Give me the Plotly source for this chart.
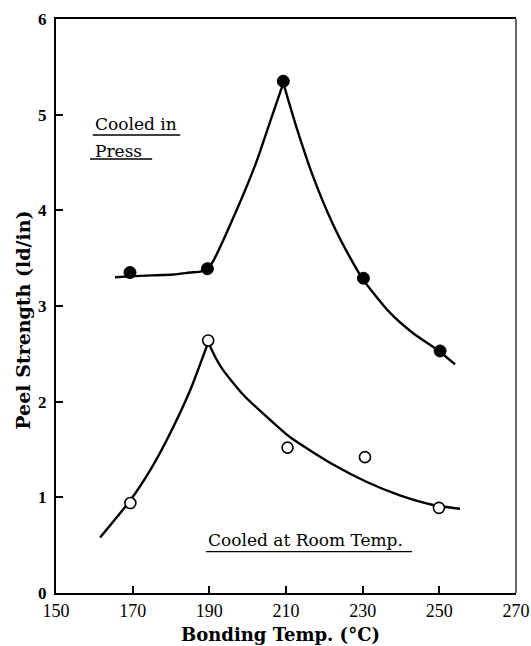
import plotly.graph_objects as go

# Measured points
temp_press = [169.3, 189.5, 209.3, 230.2, 250.2]
peel_press = [3.35, 3.39, 5.35, 3.29, 2.53]
temp_room = [169.4, 189.7, 210.4, 230.6, 249.9]
peel_room = [0.94, 2.64, 1.52, 1.42, 0.89]

# Hand-drawn fitted curves, split at the cusp
curve_press_left_x = [165.4, 169.3, 175.0, 180.6, 185.0, 187.6, 189.5, 191.0, 197.1, 202.4, 206.3, 209.3]
curve_press_left_y = [3.30, 3.31, 3.32, 3.33, 3.35, 3.36, 3.39, 3.47, 4.00, 4.52, 4.98, 5.33]
curve_press_right_x = [209.3, 212.8, 217.1, 222.3, 227.5, 230.2, 237.1, 243.0, 250.2, 254.1]
curve_press_right_y = [5.33, 4.86, 4.35, 3.85, 3.45, 3.27, 2.93, 2.72, 2.52, 2.39]

curve_room_left_x = [161.5, 169.4, 174.5, 178.9, 185.0, 189.7]
curve_room_left_y = [0.58, 0.97, 1.28, 1.60, 2.12, 2.62]
curve_room_right_x = [189.7, 191.5, 193.6, 198.9, 205.0, 211.0, 222.4, 231.1, 239.7, 248.4, 255.4]
curve_room_right_y = [2.62, 2.47, 2.33, 2.07, 1.84, 1.63, 1.34, 1.16, 1.02, 0.92, 0.88]

x_ticks = [150, 170, 190, 210, 230, 250, 270]
y_ticks = [0, 1, 2, 3, 4, 5, 6]

SERIF = "Liberation Serif"
WIDE_SERIF = "DejaVu Serif"

fig = go.Figure()

for cx, cy in [(curve_press_left_x, curve_press_left_y),
               (curve_press_right_x, curve_press_right_y),
               (curve_room_left_x, curve_room_left_y),
               (curve_room_right_x, curve_room_right_y)]:
    fig.add_trace(go.Scatter(x=cx, y=cy, mode="lines",
                             line=dict(color="black", width=2.4, shape="spline", smoothing=0.6),
                             hoverinfo="skip", showlegend=False))

fig.add_trace(go.Scatter(x=temp_press, y=peel_press, mode="markers",
                         marker=dict(symbol="circle", size=12, color="black",
                                     line=dict(color="black", width=1)),
                         showlegend=False, name="Cooled in Press"))
fig.add_trace(go.Scatter(x=temp_room, y=peel_room, mode="markers",
                         marker=dict(symbol="circle", size=11, color="white",
                                     line=dict(color="black", width=1.6)),
                         showlegend=False, name="Cooled at Room Temp."))

fig.update_layout(
    width=531, height=646,
    margin=dict(l=56, r=15, t=19, b=53),
    paper_bgcolor="white", plot_bgcolor="white",
    font=dict(family=SERIF, color="black"),
    xaxis=dict(range=[150, 270], tickvals=x_ticks, ticktext=[str(v) for v in x_ticks],
               showgrid=False, zeroline=False, showline=True, linecolor="black",
               linewidth=2, mirror=True, ticks="inside", ticklen=7, tickwidth=1.5,
               tickcolor="black", tickfont=dict(family=SERIF, size=18), automargin=False),
    yaxis=dict(range=[0, 6], tickvals=y_ticks, ticktext=[str(v) for v in y_ticks],
               showgrid=False, zeroline=False, showline=True, linecolor="black",
               linewidth=2, mirror=False, ticks="inside", ticklen=7, tickwidth=1.5,
               tickcolor="black", tickfont=dict(family=SERIF, size=17, weight="bold"),
               ticklabelstandoff=4, automargin=False),
    shapes=[
        dict(type="line", xref="paper", yref="paper", x0=1, x1=1, y0=0, y1=1,
             line=dict(color="black", width=1.2)),
        dict(type="line", xref="paper", yref="paper", x0=0.080, x1=0.270, y0=0.798, y1=0.798,
             line=dict(color="black", width=1.4)),
        dict(type="line", xref="paper", yref="paper", x0=0.074, x1=0.209, y0=0.756, y1=0.756,
             line=dict(color="black", width=1.4)),
        dict(type="line", xref="paper", yref="paper", x0=0.326, x1=0.774, y0=0.072, y1=0.072,
             line=dict(color="black", width=1.4)),
    ],
    annotations=[
        dict(text="Cooled in", xref="paper", yref="paper", x=0.081, y=0.817,
             xanchor="left", yanchor="middle", showarrow=False,
             font=dict(family=WIDE_SERIF, size=17)),
        dict(text="Press", xref="paper", yref="paper", x=0.081, y=0.770,
             xanchor="left", yanchor="middle", showarrow=False,
             font=dict(family=WIDE_SERIF, size=17)),
        dict(text="Cooled at Room Temp.", xref="paper", yref="paper", x=0.327, y=0.092,
             xanchor="left", yanchor="middle", showarrow=False,
             font=dict(family=WIDE_SERIF, size=17)),
        dict(text="Bonding Temp. (°C)", xref="paper", yref="paper", x=0.487, y=-0.073,
             xanchor="center", yanchor="middle", showarrow=False,
             font=dict(family=WIDE_SERIF, size=18, weight="bold")),
        dict(text="Peel Strength (ld/in)", xref="paper", yref="paper", x=-0.072, y=0.476,
             xanchor="center", yanchor="middle", showarrow=False, textangle=-90,
             font=dict(family=WIDE_SERIF, size=19, weight="bold")),
    ],
)

fig.write_html(
    "out.html",
    config={"displayModeBar": False},
    post_script="document.body.style.margin='0';document.body.style.overflow='hidden';"
                "document.documentElement.style.overflow='hidden';",
)
